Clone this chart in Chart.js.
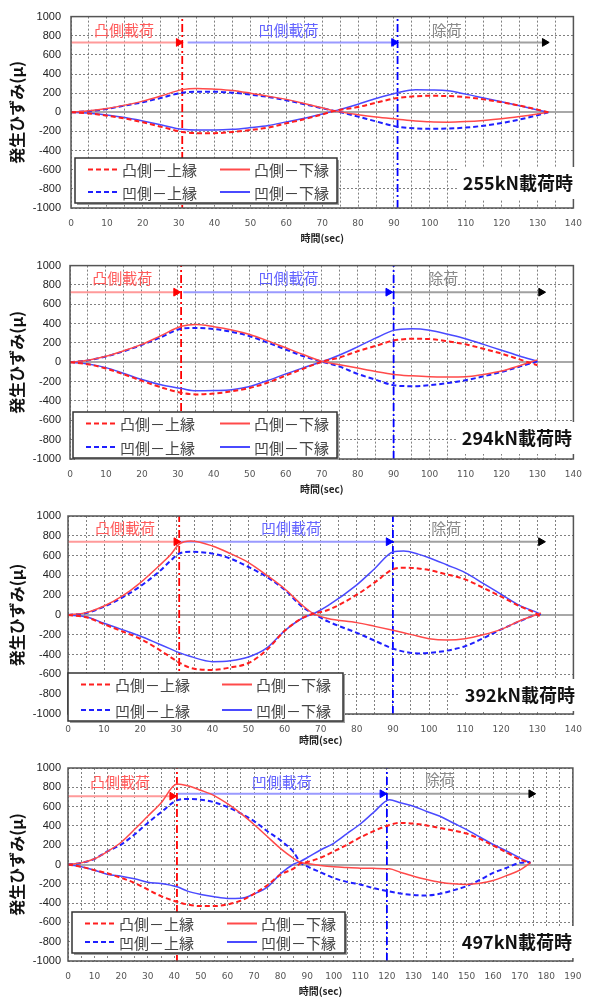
<!DOCTYPE html>
<html>
<head>
<meta charset="utf-8">
<script src="https://cdn.jsdelivr.net/npm/chart.js@4.4.1/dist/chart.umd.min.js"></script>
<style>
  body { margin: 0; background: #fff; overflow: hidden; }
  #wrap { position: relative; width: 592px; height: 999px; }
  canvas { position: absolute; left: 0; }
</style>
</head>
<body>
<div id="wrap">
  <canvas id="c255" width="592" height="250" style="top:0px"></canvas>
  <canvas id="c294" width="592" height="250" style="top:250px"></canvas>
  <canvas id="c392" width="592" height="250" style="top:500px"></canvas>
  <canvas id="c497" width="592" height="249" style="top:750px"></canvas>
</div>
<script>
// ---- data ----
// cvxTop = 凸側－上縁, cvxBot = 凸側－下縁, ccvTop = 凹側－上縁, ccvBot = 凹側－下縁
const seriesNames = ['凸側－上縁', '凸側－下縁', '凹側－上縁', '凹側－下縁'];
const phaseNames = ['凸側載荷', '凹側載荷', '除荷'];

// 255kN
const t255 = [0,5,10,15,20,25,31,35,40,45,50,55,60,65,70,73.5,80,85,91,96,100,105,110,115,120,125,130,133];
const cvxTop255 = [0,-12,-35,-65,-105,-150,-205,-218,-218,-205,-185,-160,-115,-72,-22,15,55,100,150,168,172,170,158,135,105,70,28,0];
const cvxBot255 = [0,15,40,75,117,170,237,250,242,228,200,168,135,92,47,15,-25,-50,-72,-90,-100,-103,-97,-85,-68,-45,-18,0];
const ccvTop255 = [0,12,35,70,105,150,205,215,215,205,185,160,125,85,42,15,-45,-95,-150,-168,-172,-170,-160,-140,-112,-75,-30,0];
const ccvBot255 = [0,-10,-28,-55,-90,-130,-178,-185,-185,-178,-160,-138,-100,-62,-18,15,85,145,205,235,233,225,190,150,110,68,25,0];
const phase255 = [31, 91];
const arrows255 = [[0,30,730],[32.5,90,730],[91.5,132,730]];

// 294kN
const t294 = [0,5,10,15,20,25,31,35,40,45,50,55,60,65,70,75,80,85,90,95,100,105,110,115,120,125,130];
const cvxTop294 = [0,-20,-65,-125,-192,-255,-315,-332,-323,-300,-265,-210,-137,-65,5,50,115,170,225,243,240,218,186,140,90,30,-30];
const cvxBot294 = [0,22,62,120,185,270,372,390,368,335,288,222,150,78,10,-25,-60,-95,-125,-140,-150,-152,-150,-125,-90,-35,25];
const ccvTop294 = [0,20,60,115,180,255,347,355,345,315,270,203,132,62,8,-45,-120,-180,-237,-247,-237,-215,-186,-145,-100,-45,10];
const ccvBot294 = [0,-18,-55,-115,-178,-230,-271,-295,-292,-283,-250,-188,-120,-55,5,75,160,250,330,347,332,290,244,185,124,65,10];
const phase294 = [30.9, 90];
const arrows294 = [[0,29.5,725],[31.5,88.5,725],[90,131,725]];

// 392kN
const t392 = [0,5,10,15,20,25,28.2,30.8,34,40,45,50,55,60,65,68,72,80,85,90,93,97,100,105,110,115,120,125,130,131];
const cvxTop392 = [0,-22,-94,-165,-240,-345,-420,-481,-535,-555,-530,-485,-355,-160,-30,13,50,205,330,461,478,470,454,410,360,275,185,91,7,-25];
const cvxBot392 = [0,24,91,190,325,490,600,715,747,697,620,530,403,265,95,13,-35,-77,-115,-155,-180,-215,-239,-252,-239,-200,-145,-61,7,20];
const ccvTop392 = [0,20,85,175,290,430,540,620,638,620,570,485,386,255,80,13,-65,-180,-260,-340,-370,-388,-382,-360,-315,-235,-145,-65,5,10];
const ccvBot392 = [0,-18,-84,-148,-212,-290,-340,-380,-420,-471,-462,-424,-335,-160,-30,13,95,305,470,636,646,615,579,505,428,320,209,98,24,5];
const phase392 = [30.8, 90];
const arrows392 = [[0,30,740],[31,88.8,740],[90,131,740]];

// 497kN
const t497 = [0,5,10,15,20,25,30,35,41,45,50,55,60,65,70,75,80,85,87.3,90,95,100,105,110,115,121,125,130,135,140,145,150,155,160,165,170,174];
const cvxTop497 = [0,-24,-59,-93,-138,-190,-259,-328,-386,-414,-431,-431,-414,-375,-305,-215,-105,-40,10,25,70,135,205,280,345,410,431,424,405,379,352,321,265,197,125,52,17];
const cvxBot497 = [0,17,59,138,231,362,500,638,834,817,769,714,630,530,415,290,165,62,24,10,-10,-24,-32,-38,-40,-45,-80,-121,-155,-183,-200,-207,-195,-166,-115,-59,17];
const ccvTop497 = [0,17,59,138,207,310,431,541,665,679,672,645,595,530,450,345,250,125,25,-20,-80,-140,-180,-207,-245,-280,-300,-317,-321,-303,-268,-224,-160,-86,-35,17,24];
const ccvBot497 = [0,-24,-59,-103,-121,-148,-183,-197,-231,-276,-310,-334,-352,-350,-305,-235,-95,5,30,70,150,220,320,420,540,672,640,603,550,500,430,362,285,207,140,69,17];
const phase497 = [41, 120];
const arrows497 = [[0,39.2,708],[41.3,118.3,733],[119.6,174.3,733]];

// ---- layout of each panel (pixels inside its canvas) ----
const panels = [
  { id:'c255', h:250, top:13, bottom:208, left:71, xMax:140, load:'255kN載荷時',
    t:t255, s:[cvxTop255,cvxBot255,ccvTop255,ccvBot255], phase:phase255, arrows:arrows255,
    tickPad:10, titlePad:6, yPad:10, tags:[[14.8,856],[60.6,856],[104.7,856]],
    legend:{x:75,y:158,w:262,h:45,c2:145}, label:{x:573,y:183} },
  { id:'c294', h:250, top:15, bottom:209, left:70, xMax:140, load:'294kN載荷時',
    t:t294, s:[cvxTop294,cvxBot294,ccvTop294,ccvBot294], phase:phase294, arrows:arrows294,
    tickPad:10, titlePad:5, yPad:9, tags:[[14.5,866],[60.8,866],[103.8,866]],
    legend:{x:73,y:162,w:264,h:46,c2:147}, label:{x:572,y:188} },
  { id:'c392', h:250, top:16, bottom:214, left:68, xMax:140, load:'392kN載荷時',
    t:t392, s:[cvxTop392,cvxBot392,ccvTop392,ccvBot392], phase:phase392, arrows:arrows392,
    tickPad:10, titlePad:4, yPad:7, tags:[[15.8,876],[61.8,876],[104.8,876]],
    legend:{x:68,y:173,w:275,h:48,c2:154}, label:{x:575,y:195} },
  { id:'c497', h:249, top:18, bottom:211, left:68, xMax:190, load:'497kN載荷時',
    t:t497, s:[cvxTop497,cvxBot497,ccvTop497,ccvBot497], phase:phase497, arrows:arrows497,
    tickPad:10.5, titlePad:2, yPad:7, tags:[[19.6,850],[80.4,850],[140,880]],
    legend:{x:72,y:162,w:273,h:41,c2:155}, label:{x:572,y:192} }
];

const lineStyles = [
  { color:'#ff1f1f', dash:[5,3], width:2 },
  { color:'#ff4a4a', dash:[], width:1.5 },
  { color:'#1f1fff', dash:[5,3], width:2 },
  { color:'#4a4aff', dash:[], width:1.5 }
];
const tagColors = ['#ff5a5a', '#6464ff', '#8a8a8a'];
const arrowLine = ['#ff9a9a', '#9a9aff', '#a0a0a0'];
const arrowHead = ['#ff0000', '#0000ff', '#000000'];
const phaseColors = ['#ff0000', '#0000ff'];

function makeDecor(p) {
  return {
    id: 'decor_' + p.id,
    afterDatasetsDraw(chart) {
      const { ctx, chartArea: a, scales: { x, y } } = chart;
      ctx.save();
      // plot frame
      ctx.strokeStyle = '#555';
      ctx.lineWidth = 1.5;
      ctx.strokeRect(a.left, a.top, a.width, a.height);

      // phase names
      ctx.font = '15px "Noto Sans CJK JP"';
      ctx.textAlign = 'center';
      ctx.textBaseline = 'middle';
      p.tags.forEach((tg, i) => {
        ctx.fillStyle = tagColors[i];
        ctx.fillText(phaseNames[i], x.getPixelForValue(tg[0]), y.getPixelForValue(tg[1]));
      });

      // legend box
      const L = p.legend;
      ctx.fillStyle = '#a0a0a0';
      ctx.fillRect(L.x + 2, L.y + 2, L.w, L.h);
      ctx.fillStyle = '#fff';
      ctx.fillRect(L.x, L.y, L.w, L.h);
      ctx.strokeStyle = '#333';
      ctx.lineWidth = 1.5;
      ctx.strokeRect(L.x, L.y, L.w, L.h);
      ctx.textAlign = 'left';
      chart.data.datasets.slice(0, 4).forEach((ds, i) => {
        const row = i >> 1, col = i & 1;
        const ly = L.y + (row ? L.h - 11 : 11.5);
        const lx = L.x + (col ? L.c2 : 13);
        ctx.beginPath();
        ctx.setLineDash(ds.borderDash);
        ctx.strokeStyle = ds.borderColor;
        ctx.lineWidth = 2;
        ctx.moveTo(lx, ly);
        ctx.lineTo(lx + 30, ly);
        ctx.stroke();
        ctx.setLineDash([]);
        ctx.fillStyle = '#444';
        ctx.fillText(ds.label, lx + 34, ly + 1);
      });

      // load label
      ctx.font = 'bold 18px "Noto Sans CJK JP"';
      ctx.textAlign = 'right';
      const w = ctx.measureText(p.load).width;
      ctx.fillStyle = '#fff';
      ctx.fillRect(p.label.x - w - 5, p.label.y - 16, w + 10, 32);
      ctx.fillStyle = '#111';
      ctx.fillText(p.load, p.label.x, p.label.y);
      ctx.restore();
    }
  };
}

panels.forEach(p => {
  const datasets = p.s.map((v, i) => ({
    label: seriesNames[i],
    data: p.t.map((tt, k) => ({ x: tt, y: v[k] })),
    borderColor: lineStyles[i].color,
    borderDash: lineStyles[i].dash,
    borderWidth: lineStyles[i].width,
    pointRadius: 0,
    fill: false,
    cubicInterpolationMode: 'monotone'
  }));
  p.phase.forEach((ph, i) => datasets.push({
    data: [{ x: ph, y: -1000 }, { x: ph, y: 1000 }],
    borderColor: phaseColors[i],
    borderDash: [8, 3, 2, 3],
    borderWidth: 1.8,
    pointRadius: 0
  }));
  p.arrows.forEach((ar, i) => datasets.push({
    data: [{ x: ar[0], y: ar[2] }, { x: ar[1], y: ar[2] }],
    borderColor: arrowLine[i],
    borderWidth: 2,
    pointRadius: [0, 4.5],
    pointStyle: 'triangle',
    pointRotation: 90,
    pointBackgroundColor: arrowHead[i],
    pointBorderColor: arrowHead[i],
    pointBorderWidth: 1
  }));

  new Chart(p.id, {
    type: 'line',
    data: { datasets },
    options: {
      responsive: false,
      animation: false,
      layout: { padding: { top: p.top, right: 9, left: 0, bottom: 0 } },
      plugins: { legend: { display: false }, tooltip: { enabled: false } },
      scales: {
        x: {
          type: 'linear', min: 0, max: p.xMax,
          afterFit: s => { s.height = p.h - p.bottom; },
          ticks: {
            stepSize: 5, autoSkip: false, maxRotation: 0, padding: p.tickPad,
            color: '#555', font: { family: 'DejaVu Sans', size: 9 },
            callback: v => (v % 10 === 0 ? String(v) : '')
          },
          grid: { color: '#808080', lineWidth: 1, drawTicks: false },
          border: { display: false, dash: [2, 2] },
          title: {
            display: true, text: '時間(sec)', color: '#222',
            font: { family: 'Noto Sans CJK JP', size: 10, weight: 'bold' },
            padding: { top: 0, bottom: p.titlePad }
          }
        },
        y: {
          min: -1000, max: 1000,
          afterFit: s => { s.width = p.left; },
          ticks: {
            stepSize: 200, padding: p.yPad, color: '#222',
            font: { family: 'Liberation Sans', size: 11 },
            callback: v => String(v)
          },
          grid: {
            drawTicks: false,
            color: c => (c.tick && c.tick.value === 0 ? '#a8a8a8' : '#808080'),
            lineWidth: c => (c.tick && c.tick.value === 0 ? 2 : 1)
          },
          border: { display: false, dash: c => (c.tick && c.tick.value === 0 ? [] : [2, 2]) },
          title: {
            display: true, text: '発生ひずみ(μ)', color: '#111',
            font: { family: 'Noto Sans CJK JP', size: 16, weight: 'bold' },
            padding: { top: 7, bottom: 0 }
          }
        }
      }
    },
    plugins: [makeDecor(p)]
  });
});
</script>
</body>
</html>
